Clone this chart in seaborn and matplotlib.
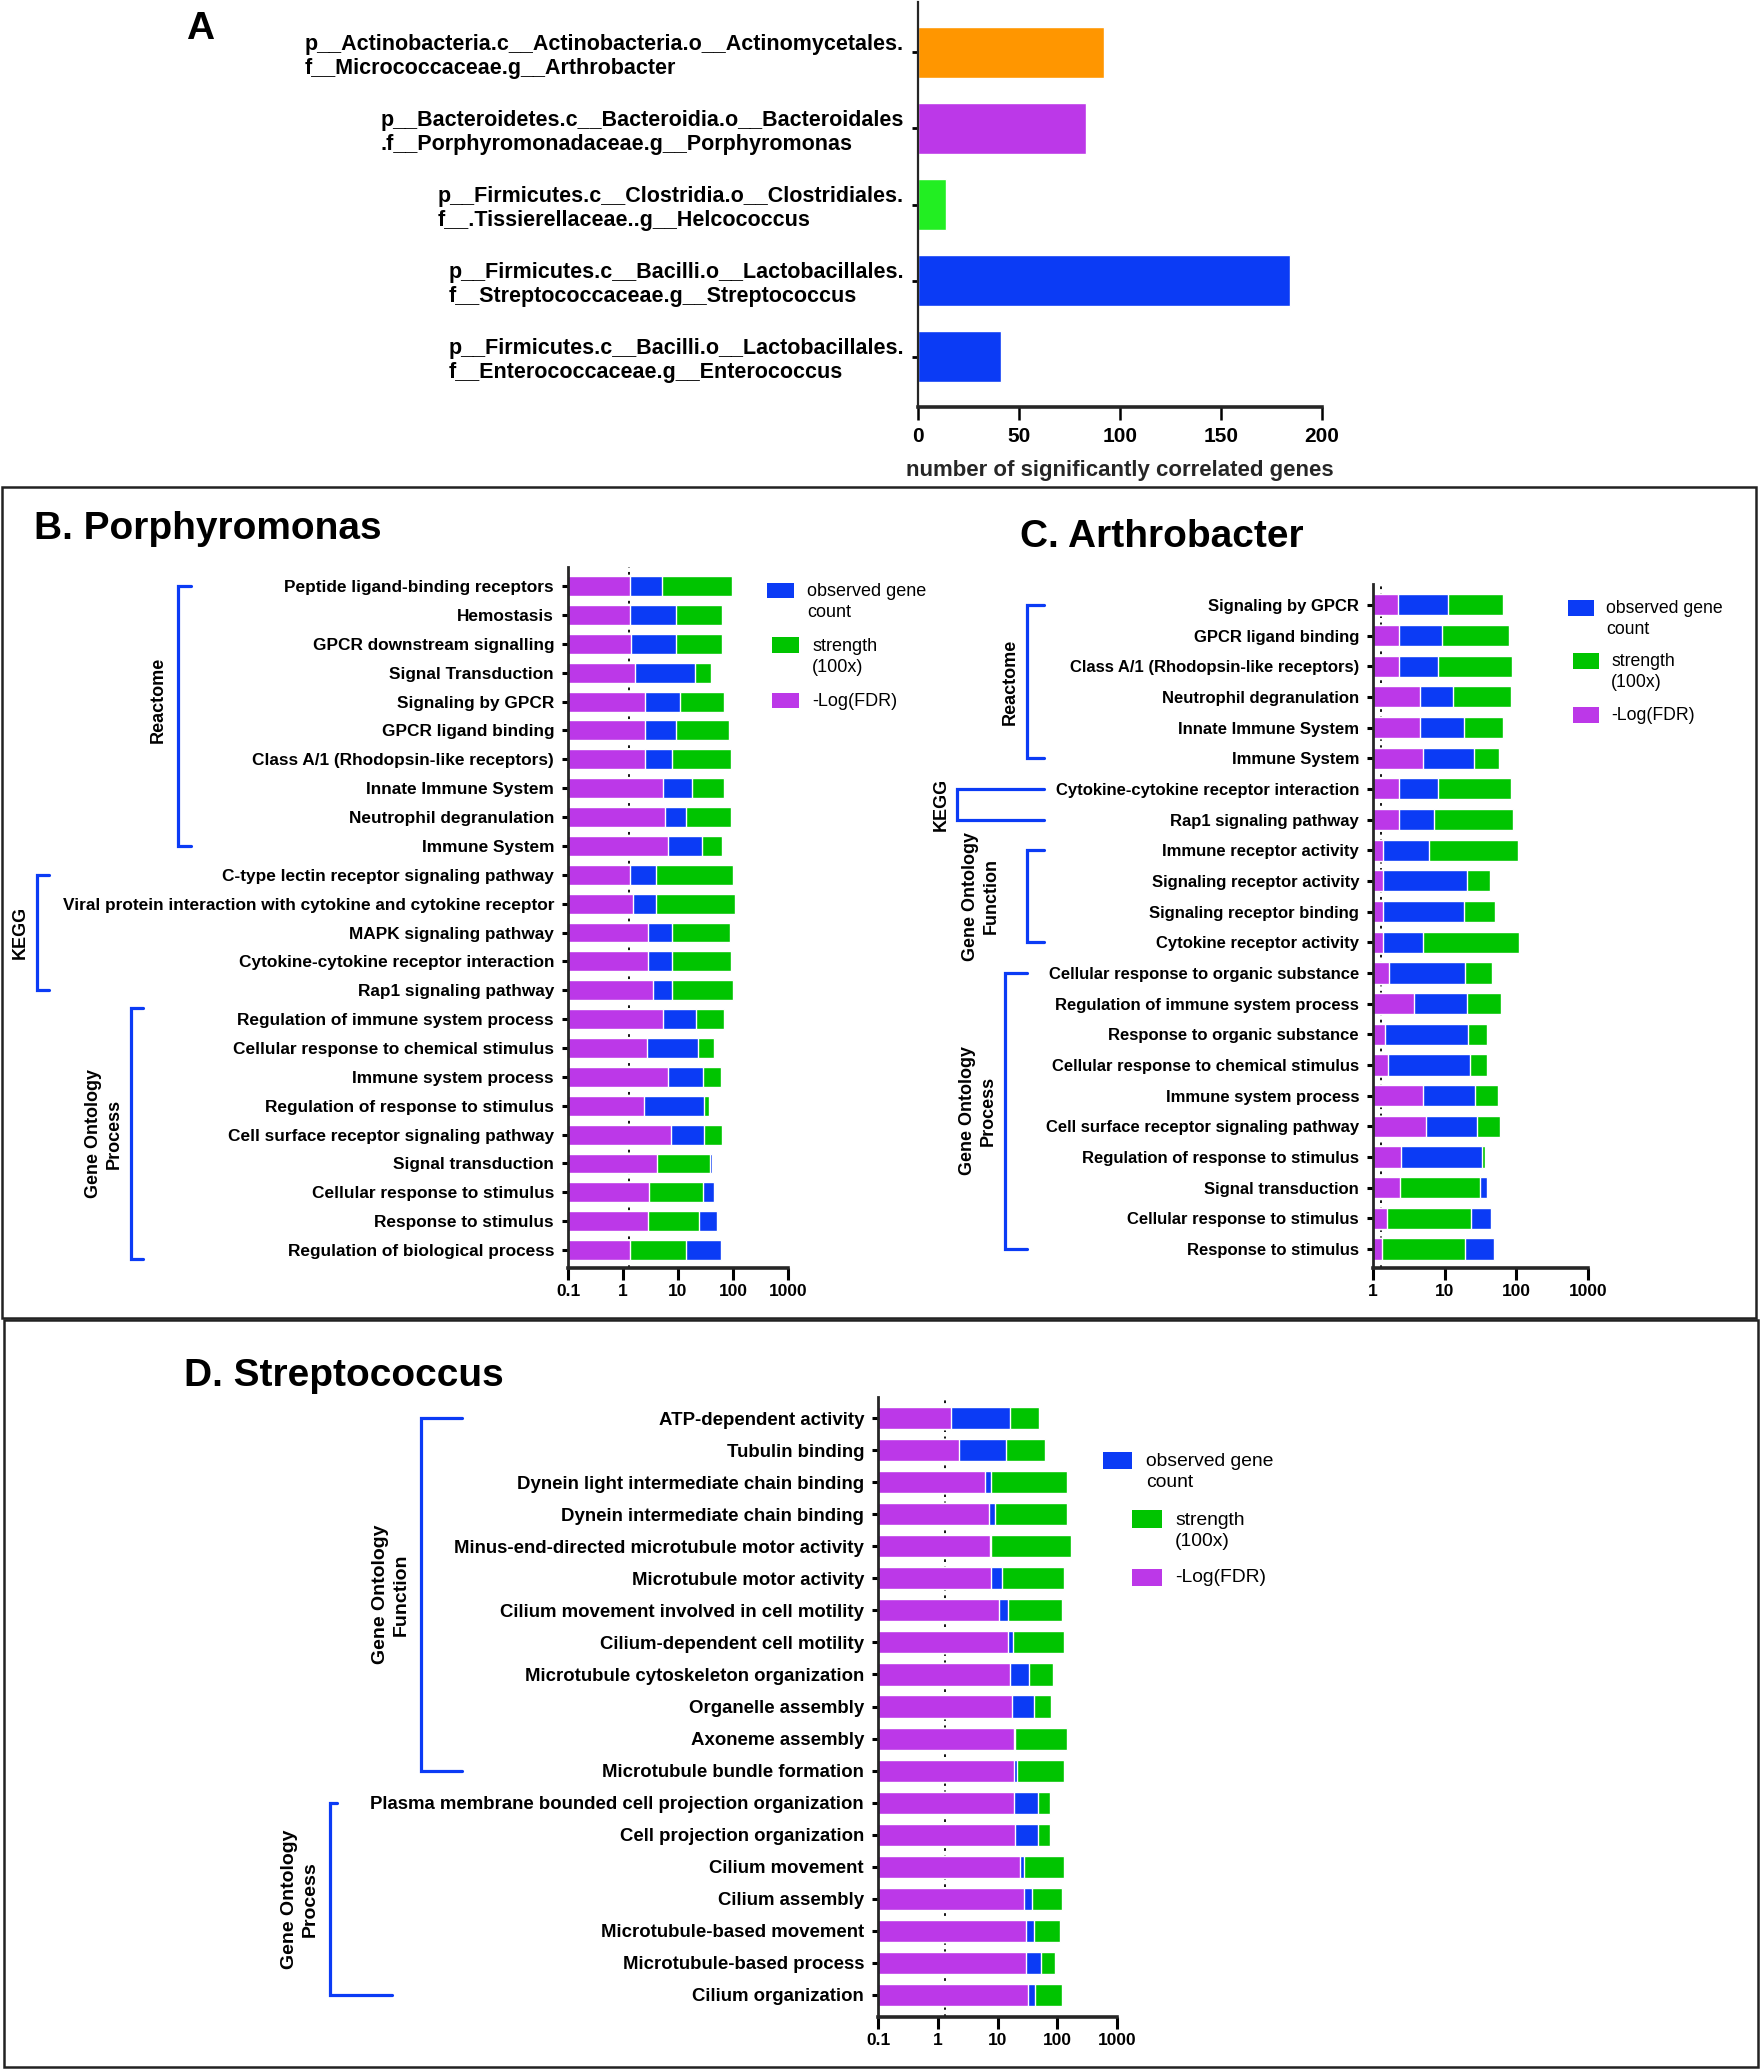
import numpy as np
import pandas as pd
import matplotlib
matplotlib.use('Agg')
import matplotlib.pyplot as plt
import matplotlib.transforms as mtransforms
from matplotlib.patches import Rectangle
from matplotlib.ticker import NullLocator
import seaborn as sns

#%% data
# panel A: taxa and number of correlated genes
a_taxa = ['p__Actinobacteria.c__Actinobacteria.o__Actinomycetales.\nf__Micrococcaceae.g__Arthrobacter',
          'p__Bacteroidetes.c__Bacteroidia.o__Bacteroidales\n.f__Porphyromonadaceae.g__Porphyromonas',
          'p__Firmicutes.c__Clostridia.o__Clostridiales.\nf__.Tissierellaceae..g__Helcococcus',
          'p__Firmicutes.c__Bacilli.o__Lactobacillales.\nf__Streptococcaceae.g__Streptococcus',
          'p__Firmicutes.c__Bacilli.o__Lactobacillales.\nf__Enterococcaceae.g__Enterococcus']
a_genes = [92, 83, 14, 184, 41]
a_colors = ['#FF9600', '#BC38E8', '#22EE22', '#0B3BF5', '#0B3BF5']
a_ticks = [0, 50, 100, 150, 200]

# panel B: Porphyromonas enrichment (bar ends on the log axis)
b_terms = ['Peptide ligand-binding receptors', 'Hemostasis', 'GPCR downstream signalling',
           'Signal Transduction', 'Signaling by GPCR', 'GPCR ligand binding',
           'Class A/1 (Rhodopsin-like receptors)', 'Innate Immune System',
           'Neutrophil degranulation', 'Immune System',
           'C-type lectin receptor signaling pathway',
           'Viral protein interaction with cytokine and cytokine receptor',
           'MAPK signaling pathway', 'Cytokine-cytokine receptor interaction',
           'Rap1 signaling pathway',
           'Regulation of immune system process', 'Cellular response to chemical stimulus',
           'Immune system process', 'Regulation of response to stimulus',
           'Cell surface receptor signaling pathway', 'Signal transduction',
           'Cellular response to stimulus', 'Response to stimulus',
           'Regulation of biological process']
b_fdr = [1.36, 1.36, 1.39, 1.68, 2.56, 2.56, 2.56, 5.3, 5.8, 6.5,
         1.36, 1.53, 2.88, 2.88, 3.5,
         5.3, 2.7, 6.7, 2.44, 7.55, 4.1, 3.0, 2.8, 1.36]
b_count = [5.2, 9.1, 9.1, 20, 11, 9.1, 7.9, 18, 13.9, 26.8,
           4.0, 4.0, 7.9, 7.9, 7.9,
           21, 23, 28.8, 29.5, 29.5, 40.8, 45, 50.6, 61]
b_strength = [95, 64, 64, 40, 70, 85, 93, 70, 91, 62,
              102, 110, 89, 91, 102,
              69, 46, 61, 37, 64, 38, 28.8, 23.9, 13.9]

# panel C: Arthrobacter
c_terms = ['Signaling by GPCR', 'GPCR ligand binding', 'Class A/1 (Rhodopsin-like receptors)',
           'Neutrophil degranulation', 'Innate Immune System', 'Immune System',
           'Cytokine-cytokine receptor interaction', 'Rap1 signaling pathway',
           'Immune receptor activity', 'Signaling receptor activity',
           'Signaling receptor binding', 'Cytokine receptor activity',
           'Cellular response to organic substance', 'Regulation of immune system process',
           'Response to organic substance', 'Cellular response to chemical stimulus',
           'Immune system process', 'Cell surface receptor signaling pathway',
           'Regulation of response to stimulus', 'Signal transduction',
           'Cellular response to stimulus', 'Response to stimulus']
c_fdr = [2.2, 2.33, 2.33, 4.5, 4.5, 5.05, 2.29, 2.29, 1.36, 1.36, 1.36, 1.36,
         1.65, 3.72, 1.46, 1.62, 4.96, 5.52, 2.46, 2.4, 1.57, 1.33]
c_count = [11.1, 9.1, 8.1, 13.1, 18.4, 25.5, 8.1, 7.1, 6.04, 20.2, 18.4, 5.05,
           19.1, 20.2, 20.9, 22.5, 26.9, 28.4, 32.8, 38.5, 43.7, 48.7]
c_strength = [66, 80, 88, 83.5, 66, 57, 85, 91, 105, 43, 49.6, 108,
              45.3, 61.5, 39.2, 39.2, 56, 59.3, 36.5, 31.6, 23.3, 19.1]

# panel D: Streptococcus
d_terms = ['ATP-dependent activity', 'Tubulin binding', 'Dynein light intermediate chain binding',
           'Dynein intermediate chain binding', 'Minus-end-directed microtubule motor activity',
           'Microtubule motor activity', 'Cilium movement involved in cell motility',
           'Cilium-dependent cell motility', 'Microtubule cytoskeleton organization',
           'Organelle assembly', 'Axoneme assembly', 'Microtubule bundle formation',
           'Plasma membrane bounded cell projection organization', 'Cell projection organization',
           'Cilium movement', 'Cilium assembly', 'Microtubule-based movement',
           'Microtubule-based process', 'Cilium organization']
d_fdr = [1.66, 2.3, 6.2, 7.1, 7.5, 7.9, 10.4, 14.8, 16, 17.4, 18.9, 18.9,
         18.9, 19.4, 24.0, 28.3, 29.9, 29.9, 32.4]
d_count = [16.5, 14, 7.9, 9.1, 7.9, 11.9, 14.8, 18.4, 34.2, 40.2, 19.8, 21.6,
           47.2, 48.4, 27.5, 38.1, 41.3, 54.1, 42.4]
d_strength = [49.9, 62, 147, 147, 173, 132, 122, 128, 85.7, 79, 143, 132,
              76.9, 76.9, 132, 118, 112, 90.4, 118]

log_ticks = [0.1, 1, 10, 100, 1000]
log_labels = ['0.1', '1', '10', '100', '1000']
fdr_cut = 0.05

measures = ['observed gene\ncount', 'strength\n(100x)', '-Log(FDR)']
pal = dict(zip(measures, ['#0B3BF5', '#00C400', '#BC38E8']))
bracket_color = '#0B3BF5'

#%% style
sns.set_theme(style='ticks')
plt.rcParams['font.family'] = ['Liberation Sans', 'DejaVu Sans']
plt.rcParams['font.weight'] = 'bold'
plt.rcParams['axes.labelweight'] = 'bold'
plt.rcParams['text.color'] = 'black'
plt.rcParams['xtick.color'] = 'black'
plt.rcParams['ytick.color'] = 'black'

W, H = 1760, 2070
fig = plt.figure(figsize=(W / 100, H / 100), dpi=100)


def px_axes(l, t, r, b):
    return fig.add_axes([l / W, 1 - b / H, (r - l) / W, (b - t) / H])


def ftext(x, y, s, **kw):
    return fig.text(x / W, 1 - y / H, s, **kw)


def frect(l, t, r, b, **kw):
    fig.add_artist(Rectangle((l / W, 1 - b / H), (r - l) / W, (b - t) / H,
                             transform=fig.transFigure, **kw))


def enrichment_panel(ax, terms, fdr, count, strength, xmin, ticks, labels,
                     label_fs, pad_top, pad_bot):
    n = len(terms)
    df = pd.DataFrame({'term': terms * 3,
                       'measure': np.repeat(measures, n),
                       'value': list(count) + list(strength) + list(fdr)})
    # longest bar drawn first so the shorter ones sit on top
    df['layer'] = df.groupby('term')['value'].rank(ascending=False, method='first')
    for layer in [1, 2, 3]:
        sns.barplot(data=df[df['layer'] == layer], x='value', y='term', hue='measure',
                    order=terms, hue_order=measures, palette=pal, dodge=False,
                    width=0.69, saturation=1, errorbar=None, log_scale=True,
                    legend=False, ax=ax)
    # seaborn masks the bar base at 0 on a log axis; clip it instead so bars show
    ax.set_xscale('log', nonpositive='clip')
    ax.axvline(-np.log10(fdr_cut), color='black', lw=1.3, ls=(0, (1.5, 2.5)), zorder=0)
    ax.set_xlim(xmin, 1000)
    ax.set_ylim(n - 1 + pad_bot, -pad_top)
    ax.set_xticks(ticks, labels)
    ax.xaxis.set_minor_locator(NullLocator())
    ax.set_xlabel('')
    ax.set_ylabel('')
    sns.despine(ax=ax)
    ax.spines['left'].set_linewidth(2.0)
    ax.spines['bottom'].set_linewidth(2.6)
    ax.tick_params(axis='y', length=4.5, width=2.2, pad=5.5, labelsize=label_fs)
    ax.tick_params(axis='x', length=8.5, width=2.2, pad=3, labelsize=12.5)


def bracket(ax, r0, r1, x_line, x_top, x_bot, label, x_label, fs,
            pad0=0.0, pad1=0.0, dy=0.0):
    tr = mtransforms.blended_transform_factory(fig.transFigure, ax.transData)
    y0, y1 = r0 - pad0, r1 + pad1
    ax.plot([x_top / W, x_line / W, x_line / W, x_bot / W], [y0, y0, y1, y1],
            transform=tr, color=bracket_color, lw=2.3, clip_on=False,
            solid_joinstyle='miter')
    ax.text(x_label / W, (y0 + y1) / 2 + dy, label, transform=tr, rotation=90,
            ha='center', va='center', multialignment='center', fontsize=fs,
            linespacing=1.25)


def legend_block(entries, fs):
    for m, box, tx, ty in entries:
        frect(*box, color=pal[m], lw=0)
        ftext(tx, ty, m, fontsize=fs, fontweight='normal', ha='left', va='center',
              linespacing=1.3)


#%% panel A
axA = px_axes(918, 2, 1322, 407)
dfA = pd.DataFrame({'taxon': a_taxa, 'genes': a_genes})
sns.barplot(data=dfA, x='genes', y='taxon', hue='taxon', palette=dict(zip(a_taxa, a_colors)),
            legend=False, width=0.67, saturation=1, errorbar=None, ax=axA)
axA.set_xlim(0, 200)
axA.set_xticks(a_ticks)
axA.set_ylim(len(a_taxa) - 1 + 0.66, -0.66)
axA.set_ylabel('')
axA.set_xlabel('number of significantly correlated genes', fontsize=16,
               fontweight='bold', labelpad=10)
sns.despine(ax=axA)
axA.spines['left'].set_linewidth(1.6)
axA.spines['bottom'].set_linewidth(2.6)
axA.tick_params(axis='y', length=4, width=2, pad=6, labelsize=15.5)
axA.tick_params(axis='x', length=9.5, width=1.8, pad=5, labelsize=15)
for lbl in axA.get_yticklabels():
    lbl.set_multialignment('left')
    lbl.set_linespacing(1.2)
ftext(200, 29, 'A', fontsize=28, ha='center', va='center')

#%% panel B
axB = px_axes(568, 567, 788, 1268)
enrichment_panel(axB, b_terms, b_fdr, b_count, b_strength, 0.1, log_ticks, log_labels,
                 12.4, 0.66, 0.62)
bracket(axB, 0, 9, 178, 191, 191, 'Reactome', 158, 13, dy=-0.55)
bracket(axB, 10, 14, 37, 49, 49, 'KEGG', 20, 13)
bracket(axB, 15, 23, 131, 143, 143, 'Gene Ontology\nProcess', 104, 13, pad0=0.38, pad1=0.3)
ftext(34, 529, 'B. Porphyromonas', fontsize=28, ha='left', va='center')
legend_block([(measures[0], (767, 583, 794, 598), 807, 602),
              (measures[1], (772, 637, 799, 653), 812, 657),
              (measures[2], (772, 693, 799, 708), 812, 702)], 13)

#%% panel C
axC = px_axes(1373, 584, 1588, 1268)
enrichment_panel(axC, c_terms, c_fdr, c_count, c_strength, 1, log_ticks[1:], log_labels[1:],
                 12, 0.68, 0.62)
bracket(axC, 0, 5, 1027, 1044, 1044, 'Reactome', 1010, 13)
bracket(axC, 6, 7, 957, 1044, 1044, 'KEGG', 941, 13)
bracket(axC, 8, 11, 1027, 1044, 1044, 'Gene Ontology\nFunction', 981, 13)
bracket(axC, 12, 21, 1005, 1027, 1027, 'Gene Ontology\nProcess', 978, 13)
ftext(1020, 537, 'C. Arthrobacter', fontsize=28, ha='left', va='center')
legend_block([(measures[0], (1568, 600, 1594, 616), 1606, 619),
              (measures[1], (1573, 653, 1599, 669), 1611, 672),
              (measures[2], (1573, 707, 1599, 723), 1611, 716)], 12.7)

#%% panel D
axD = px_axes(878, 1397, 1117, 2017)
enrichment_panel(axD, d_terms, d_fdr, d_count, d_strength, 0.1, log_ticks, log_labels,
                 13.4, 0.66, 0.69)
bracket(axD, 0, 11, 421, 462, 462, 'Gene Ontology\nFunction', 391, 14)
bracket(axD, 12, 18, 330, 337, 392, 'Gene Ontology\nProcess', 300, 14)
ftext(184, 1376, 'D. Streptococcus', fontsize=28, ha='left', va='center')
legend_block([(measures[0], (1103, 1452, 1132, 1469), 1146, 1472),
              (measures[1], (1132, 1510, 1162, 1528), 1175, 1531),
              (measures[2], (1132, 1569, 1162, 1586), 1175, 1578)], 13.9)

#%% panel frames
frect(2, 487, 1756, 1318, fill=False, lw=1.8, ec='#222222')
frect(4, 1320, 1758, 2067, fill=False, lw=1.8, ec='#222222')

fig.savefig('out.png', dpi=100)
